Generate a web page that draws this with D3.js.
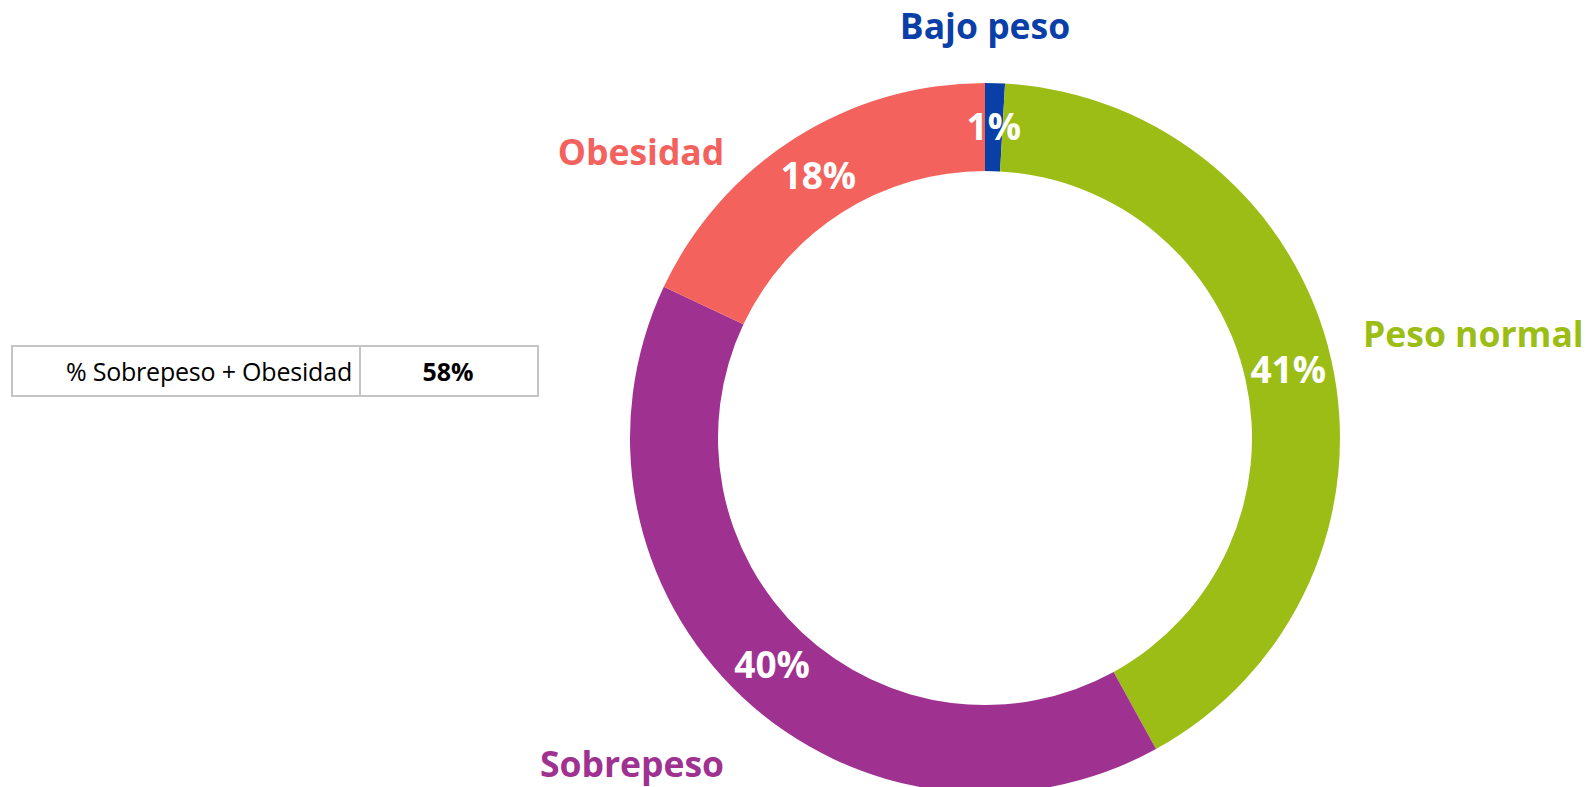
<!DOCTYPE html>
<html>
<head>
<meta charset="utf-8">
<script src="https://cdn.jsdelivr.net/npm/d3@7"></script>
<style>
  body { margin: 0; background: #fff; }
  svg { display: block; font-family: "Open Sans", "DejaVu Sans", sans-serif; }
</style>
</head>
<body>
<svg width="1586" height="787"></svg>
<script>
// data
var categories = ["Bajo peso", "Peso normal", "Sobrepeso", "Obesidad"],
    shares = [0.9, 41.1, 40.0, 18.0],
    shareLabels = ["1%", "41%", "40%", "18%"],
    colors = ["#0A3FA8", "#9BBD15", "#9F3191", "#F3625D"],
    summaryLabel = "% Sobrepeso + Obesidad",
    summaryValue = "58%";

var svg = d3.select("svg"),
    cx = 985, cy = 438,
    outerR = 355, innerR = 267;

var pie = d3.pie().sort(null).value(function(d) { return d; }),
    arc = d3.arc().innerRadius(innerR).outerRadius(outerR),
    labelArc = d3.arc().innerRadius(311).outerRadius(311);

var arcs = pie(shares);

var g = svg.append("g")
    .attr("transform", "translate(" + cx + "," + cy + ")");

g.selectAll("path.slice")
    .data(arcs)
  .enter().append("path")
    .attr("class", "slice")
    .attr("fill", function(d, i) { return colors[i]; })
    .attr("d", arc);

// percent labels inside the ring
g.selectAll("text.pct")
    .data(arcs)
  .enter().append("text")
    .attr("class", "pct")
    .attr("transform", function(d) {
      var c = labelArc.centroid(d);
      return "translate(" + c[0] + "," + c[1] + ")";
    })
    .attr("text-anchor", "middle")
    .attr("dy", "0.36em")
    .attr("fill", "#fff")
    .style("font-weight", 700)
    .style("font-size", "37px")
    .text(function(d, i) { return shareLabels[i]; });

// category labels, nudged like the manual placement in the original
var catOffsets = [[0, -399], [378, -91], [-353, 339], [-344, -273]],
    catAnchor = ["middle", "start", "middle", "middle"];

g.selectAll("text.cat")
    .data(categories)
  .enter().append("text")
    .attr("class", "cat")
    .attr("x", function(d, i) { return catOffsets[i][0]; })
    .attr("y", function(d, i) { return catOffsets[i][1]; })
    .attr("text-anchor", function(d, i) { return catAnchor[i]; })
    .attr("fill", function(d, i) { return colors[i]; })
    .style("font-weight", 700)
    .style("font-size", "35.5px")
    .text(function(d) { return d; });

// summary table on the left
var table = svg.append("g").attr("transform", "translate(12,346)");

table.append("rect")
    .attr("width", 526).attr("height", 50)
    .attr("fill", "none")
    .attr("stroke", "#c4c4c4")
    .attr("stroke-width", 2);

table.append("line")
    .attr("x1", 348).attr("x2", 348)
    .attr("y1", 0).attr("y2", 50)
    .attr("stroke", "#c4c4c4")
    .attr("stroke-width", 2);

table.append("text")
    .attr("x", 340).attr("y", 35)
    .attr("text-anchor", "end")
    .attr("fill", "#000")
    .style("font-size", "25px")
    .style("letter-spacing", "-0.2px")
    .text(summaryLabel);

table.append("text")
    .attr("x", 436).attr("y", 35)
    .attr("text-anchor", "middle")
    .attr("fill", "#000")
    .style("font-size", "25px")
    .style("font-weight", 700)
    .text(summaryValue);
</script>
</body>
</html>
